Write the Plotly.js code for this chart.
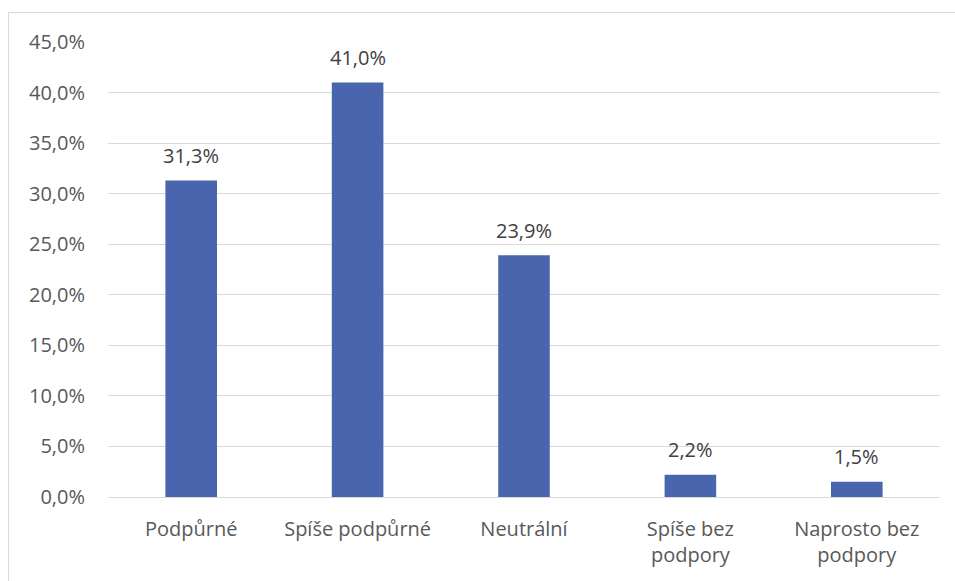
<!DOCTYPE html>
<html>
<head>
<meta charset="utf-8">
<script src="https://cdn.plot.ly/plotly-3.0.1.min.js"></script>
<style>
  html, body { margin: 0; padding: 0; background: #fff; overflow: hidden; }
  #chart { position: absolute; left: 0; top: 0; width: 955px; height: 581px; }
  #frame { position: absolute; left: 8px; top: 12px; width: 1200px; height: 900px;
           border: 1px solid #d9d9d9; pointer-events: none; z-index: 10; }
</style>
</head>
<body>
<div id="chart"></div>
<div id="frame"></div>
<script>
const categories = ["Podpůrné", "Spíše podpůrné", "Neutrální", "Spíše bez<br>podpory", "Naprosto bez<br>podpory"];
const values = [31.3, 41.0, 23.9, 2.2, 1.5];
const tickValues = [0, 5, 10, 15, 20, 25, 30, 35, 40, 45];

const fmt = v => v.toFixed(1).replace('.', ',') + '%';
const FONT = 'Open Sans, sans-serif';

const trace = {
  type: 'bar',
  x: categories,
  y: values,
  marker: { color: '#4865ae' },
  hoverinfo: 'none'
};

const annotations = categories.map((c, i) => ({
  x: c,
  y: values[i],
  xref: 'x',
  yref: 'y',
  text: fmt(values[i]),
  showarrow: false,
  yanchor: 'middle',
  yshift: 25,
  font: { family: FONT, size: 20, color: '#404040' }
}));

const layout = {
  width: 955,
  height: 581,
  margin: { l: 108, r: 15, t: 42, b: 84 },
  paper_bgcolor: '#ffffff',
  plot_bgcolor: '#ffffff',
  bargap: 0.69,
  showlegend: false,
  font: { family: FONT, size: 20, color: '#595959' },
  annotations: annotations,
  xaxis: {
    type: 'category',
    showgrid: false,
    showline: false,
    zeroline: false,
    ticks: '',
    ticklabelstandoff: 18,
    tickfont: { family: FONT, size: 20, color: '#595959' }
  },
  yaxis: {
    range: [0, 45],
    tickvals: tickValues,
    ticktext: tickValues.map(fmt),
    showgrid: true,
    gridcolor: '#d9d9d9',
    gridwidth: 1,
    zeroline: true,
    zerolinecolor: '#d9d9d9',
    zerolinewidth: 1,
    showline: false,
    ticks: '',
    ticklabelstandoff: 22,
    tickfont: { family: FONT, size: 20, color: '#595959' }
  }
};

Plotly.newPlot('chart', [trace], layout, { staticPlot: true, displayModeBar: false });
</script>
</body>
</html>
